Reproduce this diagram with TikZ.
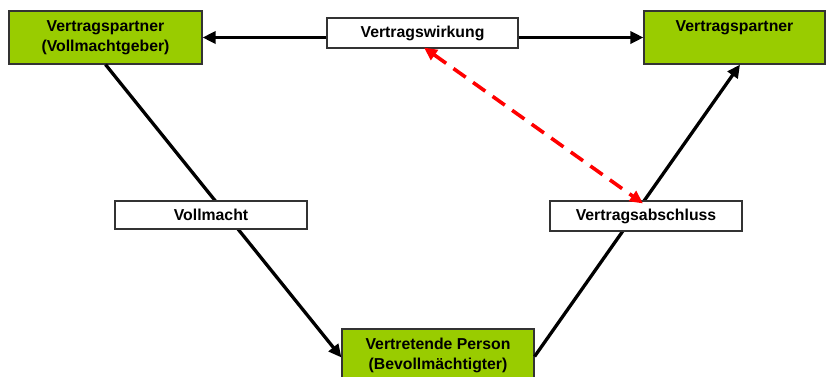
\documentclass[tikz,border=0pt]{standalone}
\usepackage{fontspec}
\setmainfont{Liberation Sans}
\usetikzlibrary{arrows.meta}
\definecolor{vgreen}{HTML}{99CC00}
\definecolor{bordergray}{HTML}{333333}
\begin{document}
\begin{tikzpicture}[x=1pt,y=-1pt,
  lbl/.style={font=\fontsize{15.8}{19.5}\selectfont\bfseries, align=center, inner sep=0pt},
  greenbox/.style={lbl, rectangle, fill=vgreen, draw=bordergray, line width=1.1pt},
  whitebox/.style={lbl, rectangle, fill=white, draw=bordergray, line width=1.1pt, minimum width=192pt},
  conn/.style={line width=3.3pt, -{Triangle[length=13pt,width=12pt]}},
  reddash/.style={red, line width=3.6pt, dash pattern=on 15pt off 9pt, {Triangle[length=13pt,width=12pt]}-{Triangle[length=13pt,width=12pt]}}
]
\clip (0,0) rectangle (826,376);
\fill[white] (0,0) rectangle (826,376);

% boxes on top
\node[greenbox, minimum width=193pt, minimum height=53pt] (lp) at (105.5,37.5) {\strut Vertragspartner\\\strut(Vollmachtgeber)};
\node[greenbox, minimum width=181pt, minimum height=53pt] (rp) at (734.5,37.5) {\strut Vertragspartner\\\strut};
\node[greenbox, minimum width=192pt, minimum height=53pt] (bp) at (438,355.5) {\strut Vertretende Person\\\strut(Bevollmächtigter)};
\node[whitebox, minimum width=191pt, minimum height=30pt] (vw) at (422.5,33) {Vertragswirkung};

% connectors (drawn before the label boxes)
\draw[conn] (lp.south) -- ([yshift=-2pt]bp.west);
\draw[conn] ([yshift=-1pt]bp.east) -- ([xshift=5.5pt]rp.south);
\draw[conn] (vw.west |- lp.east) -- (lp.east);
\draw[conn] (vw.east |- rp.west) -- (rp.west);

\node[whitebox, minimum height=28pt] (vm) at (211,215) {Vollmacht};
\node[whitebox, minimum height=30pt] (va) at (646,216) {Vertragsabschluss};

\draw[reddash] ([xshift=1.5pt,yshift=1pt]vw.south) -- ([xshift=-3pt,yshift=-3pt]va.north);
\end{tikzpicture}
\end{document}
